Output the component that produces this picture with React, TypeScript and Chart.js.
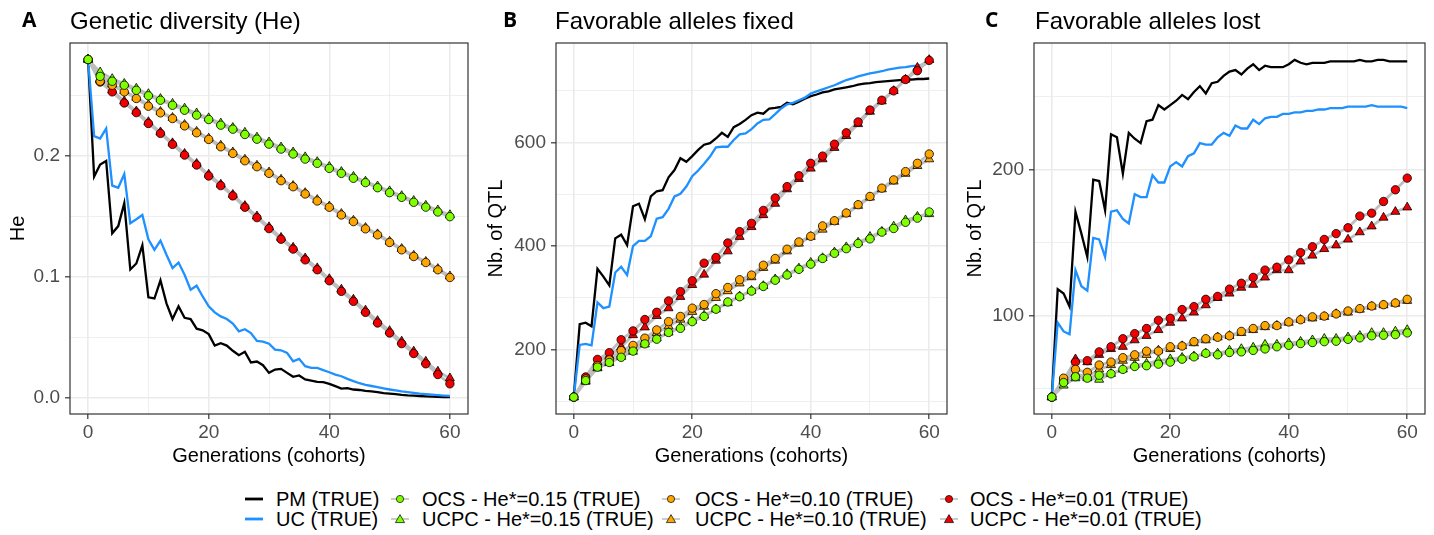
import React, { useEffect, useRef } from 'react';
import { Chart, registerables } from 'chart.js';

Chart.register(...registerables);

// ---------- categories / ticks ----------
const GEN = [
  0, 1, 2, 3, 4, 5, 6, 7, 8, 9,
  10, 11, 12, 13, 14, 15, 16, 17, 18, 19,
  20, 21, 22, 23, 24, 25, 26, 27, 28, 29,
  30, 31, 32, 33, 34, 35, 36, 37, 38, 39,
  40, 41, 42, 43, 44, 45, 46, 47, 48, 49,
  50, 51, 52, 53, 54, 55, 56, 57, 58, 59, 60,
];
const GEN_EVEN = [
  0, 2, 4, 6, 8, 10, 12, 14, 16, 18,
  20, 22, 24, 26, 28, 30, 32, 34, 36, 38,
  40, 42, 44, 46, 48, 50, 52, 54, 56, 58, 60,
];
const X_TICKS = [0, 10, 20, 30, 40, 50, 60];
const X_LABELS = ['0', '', '20', '', '40', '', '60'];

const A_Y_TICKS = [0, 0.05, 0.1, 0.15, 0.2, 0.25];
const A_Y_LABELS = ['0.0', '', '0.1', '', '0.2', ''];
const B_Y_TICKS = [100, 200, 300, 400, 500, 600, 700];
const B_Y_LABELS = ['', '200', '', '400', '', '600', ''];
const C_Y_TICKS = [50, 100, 150, 200, 250];
const C_Y_LABELS = ['', '100', '', '200', ''];

// ---------- Panel A : genetic diversity ----------
const A_PM = [
  0.280, 0.183, 0.193, 0.196, 0.136, 0.142, 0.161, 0.106, 0.111, 0.126,
  0.083, 0.082, 0.097, 0.078, 0.065, 0.0755, 0.066, 0.065, 0.057, 0.0556,
  0.0525, 0.043, 0.045, 0.043, 0.0387, 0.035, 0.0378, 0.029, 0.0298, 0.0267,
  0.0204, 0.0231, 0.0237, 0.0204, 0.0171, 0.0182, 0.0149, 0.014, 0.013, 0.0127,
  0.0113, 0.0094, 0.0074, 0.0077, 0.0066, 0.0062, 0.0055, 0.005, 0.0044, 0.0036,
  0.0032, 0.0028, 0.0022, 0.0018, 0.0016, 0.0012, 0.0009, 0.0007, 0.0005, 0.0004, 0.0003,
];
const A_UC = [
  0.280, 0.2165, 0.2146, 0.2229, 0.1755, 0.1738, 0.1851, 0.1444, 0.1477, 0.1512,
  0.1311, 0.1223, 0.130, 0.1182, 0.1072, 0.1118, 0.1017, 0.0893, 0.0926, 0.0837,
  0.0755, 0.0705, 0.0672, 0.065, 0.0612, 0.0548, 0.0565, 0.0534, 0.0469, 0.0463,
  0.0446, 0.0397, 0.0391, 0.0369, 0.030, 0.032, 0.0259, 0.0245, 0.0245, 0.0226,
  0.0209, 0.019, 0.0176, 0.0154, 0.0135, 0.0118, 0.0105, 0.0095, 0.0085, 0.0075,
  0.0066, 0.0058, 0.005, 0.0044, 0.0038, 0.0032, 0.0028, 0.0024, 0.002, 0.0016, 0.0013,
];
const A_OCS15 = [
  0.280, 0.266, 0.262, 0.2587, 0.2545, 0.250, 0.2463, 0.2421, 0.238, 0.2339,
  0.2303, 0.2256, 0.2223, 0.2179, 0.214, 0.2099, 0.2058, 0.2017, 0.1975, 0.194,
  0.1898, 0.1857, 0.1816, 0.178, 0.1738, 0.1697, 0.1658, 0.1617, 0.1577, 0.1537,
  0.1498,
];
const A_UCPC15 = [
  0.280, 0.2695, 0.264, 0.260, 0.256, 0.2515, 0.2475, 0.2435, 0.2395, 0.2355,
  0.2315, 0.2272, 0.2235, 0.2195, 0.2155, 0.2115, 0.2073, 0.2032, 0.1992, 0.1952,
  0.1912, 0.187, 0.183, 0.179, 0.175, 0.171, 0.167, 0.163, 0.159, 0.1552,
  0.1512,
];
const A_OCS10 = [
  0.280, 0.262, 0.2587, 0.2532, 0.2477, 0.2413, 0.2358, 0.2311, 0.225, 0.2193,
  0.2138, 0.2077, 0.2022, 0.1961, 0.1912, 0.1857, 0.1796, 0.1746, 0.1686, 0.1628,
  0.1576, 0.1512, 0.1457, 0.1397, 0.1347, 0.1284, 0.1223, 0.1168, 0.1118, 0.1058,
  0.0994,
];
const A_UCPC10 = [
  0.280, 0.264, 0.2595, 0.254, 0.2485, 0.2425, 0.2368, 0.2318, 0.226, 0.2203,
  0.2147, 0.2088, 0.2032, 0.1972, 0.1922, 0.1866, 0.1806, 0.1754, 0.1695, 0.1638,
  0.1584, 0.1522, 0.1466, 0.1406, 0.1354, 0.1292, 0.1232, 0.1176, 0.1125, 0.1066,
  0.1005,
];
const A_OCS01 = [
  0.280, 0.2614, 0.2532, 0.244, 0.236, 0.227, 0.2188, 0.2097, 0.2008, 0.1926,
  0.1835, 0.1755, 0.167, 0.1576, 0.149, 0.1399, 0.1311, 0.1229, 0.114, 0.1058,
  0.0967, 0.0879, 0.0796, 0.0705, 0.0617, 0.0534, 0.0446, 0.0364, 0.0279, 0.019,
  0.0113,
];
const A_UCPC01 = [
  0.280, 0.263, 0.2545, 0.2455, 0.2372, 0.2283, 0.2198, 0.2108, 0.202, 0.1937,
  0.1848, 0.1765, 0.168, 0.1588, 0.1502, 0.1412, 0.1324, 0.1242, 0.1154, 0.1072,
  0.0982, 0.0895, 0.0812, 0.0722, 0.0635, 0.0552, 0.0465, 0.0382, 0.0298, 0.0215,
  0.016,
];

// ---------- Panel B : favorable alleles fixed ----------
const B_PM = [
  108, 249, 252, 245, 356, 341, 324, 415, 422, 402,
  477, 482, 452, 496, 506, 508, 533, 547, 570, 563,
  574, 586, 596, 599, 608, 619, 611, 630, 636, 644,
  653, 658, 656, 666, 667, 669, 677, 674, 679, 685,
  690, 693, 697, 699, 703, 705, 707, 709, 712, 714,
  715, 717, 718, 719, 720, 721, 722, 722, 723, 723, 724,
];
const B_UC = [
  108, 209, 211, 208, 291, 280, 283, 349, 360, 344,
  400, 410, 410, 419, 453, 456, 472, 496, 501, 515,
  535, 546, 559, 573, 591, 592, 592, 605, 616, 618,
  626, 637, 644, 645, 655, 666, 674, 677, 682, 687,
  695, 699, 703, 707, 711, 716, 721, 724, 728, 731,
  734, 736, 738, 741, 743, 745, 746, 748, 749, 751, 754,
];
const B_OCS15 = [
  108, 140, 166, 175, 185, 197, 211, 220, 233, 241,
  254, 264, 278, 292, 302, 313, 322, 334, 344, 355,
  365, 376, 386, 395, 405, 414, 427, 434, 446, 454,
  466,
];
const B_UCPC15 = [
  108, 139, 165, 174, 186, 196, 210, 222, 233, 244,
  256, 266, 278, 290, 303, 314, 323, 336, 346, 357,
  368, 377, 388, 398, 407, 418, 428, 438, 450, 457,
  462,
];
const B_OCS10 = [
  108, 143, 169, 180, 198, 208, 222, 238, 254, 264,
  280, 287, 308, 320, 335, 344, 363, 376, 394, 408,
  419, 439, 449, 464, 480, 496, 512, 528, 544, 560,
  578,
];
const B_UCPC10 = [
  108, 138, 164, 175, 190, 203, 215, 232, 245, 258,
  273, 283, 300, 313, 328, 340, 358, 372, 390, 405,
  418, 432, 447, 462, 478, 494, 510, 525, 540, 555,
  568,
];
const B_OCS01 = [
  108, 147, 181, 194, 219, 236, 258, 272, 294, 312,
  333, 367, 378, 406, 428, 444, 469, 493, 515, 536,
  560, 574, 597, 619, 640, 663, 682, 700, 722, 739,
  759,
];
const B_UCPC01 = [
  108, 142, 176, 188, 205, 228, 243, 265, 280, 302,
  325, 345, 372, 390, 418, 437, 460, 482, 510, 530,
  550, 568, 590, 613, 636, 660, 680, 700, 722, 745,
  760,
];

// ---------- Panel C : favorable alleles lost ----------
const C_PM = [
  44, 118, 115, 106, 171, 156, 140, 193, 192, 172,
  224, 222, 197, 225, 221, 218, 233, 234, 244, 241,
  244, 247, 251, 248, 253, 257, 252, 259, 260, 264,
  267, 268, 265, 269, 272, 268, 271, 270, 270, 270,
  272, 275, 273, 272, 273, 273, 273, 274, 274, 274,
  274, 274, 275, 274, 274, 275, 275, 274, 274, 274, 274,
];
const C_UC = [
  44, 95, 89, 87, 131, 120, 117, 153, 152, 140,
  171, 172, 166, 163, 183, 181, 181, 196, 191, 191,
  202, 205, 202, 209, 211, 218, 217, 217, 222, 225,
  223, 230, 228, 228, 234, 231, 235, 236, 236, 238,
  238, 239, 239, 240, 240, 241, 241, 242, 242, 242,
  243, 243, 243, 243, 244, 243, 243, 243, 243, 243, 242,
];
const C_OCS15 = [
  44, 54, 58, 57, 59, 60, 63, 65, 65.5, 66.6,
  68, 70, 71.6, 74, 73, 74.6, 75, 76, 77, 78.5,
  79.5, 80.7, 81.4, 82, 82.3, 83.6, 84.6, 86, 86.4, 86.8,
  88,
];
const C_UCPC15 = [
  44, 52, 57, 57, 56, 60, 63, 66, 67, 69,
  70, 71, 72, 74, 74, 76, 77, 78, 80, 80,
  81, 82, 83, 84, 84, 85, 86, 88, 88, 89,
  90,
];
const C_OCS10 = [
  44, 57, 63, 61, 66, 68, 71, 73, 75.5, 75.5,
  78.5, 79, 82, 84, 85, 86, 89, 91, 93, 93,
  95.5, 97, 99, 99.5, 101, 103, 104.6, 106.4, 107.3, 108.5,
  111,
];
const C_UCPC10 = [
  44, 56, 60, 58, 63, 66, 69, 71, 73, 76,
  77, 79, 81, 83, 85, 86, 88, 90, 92, 93,
  95, 97, 98, 99, 101, 102, 104, 106, 107, 108,
  110,
];
const C_OCS01 = [
  44, 56, 68, 69, 75, 78.5, 84, 87.5, 91, 96.6,
  98, 104, 106, 111, 113, 118, 122, 126, 131, 133,
  138, 143, 147, 152, 156, 160, 168, 170, 178, 186,
  194,
];
const C_UCPC01 = [
  44, 55, 70, 68, 73, 77, 78.5, 83, 86, 90,
  95, 98, 102, 107, 112, 115, 119, 121, 126, 131,
  131, 137, 141, 145.5, 148, 152, 157, 161, 167, 171,
  174,
];

// ---------- styling ----------
const FONT = '"Liberation Sans", Arial, Helvetica, sans-serif';
const BLACK = '#000000';
const BLUE = '#1E90FF';
const GREEN = '#7FFF00';
const ORANGE = '#FFA500';
const RED = '#F00000';
const GREY_LINE = '#bebebe';
const GRID = '#ebebeb';
const AXIS_DARK = '#333333';

type PanelDef = {
  pm: number[]; uc: number[];
  ocs15: number[]; ucpc15: number[];
  ocs10: number[]; ucpc10: number[];
  ocs01: number[]; ucpc01: number[];
  yMin: number; yMax: number;
  yTicks: number[]; yLabels: string[];
  yTitle: string; yAxisWidth: number; padRight: number;
};

const PANEL_A: PanelDef = {
  pm: A_PM, uc: A_UC, ocs15: A_OCS15, ucpc15: A_UCPC15, ocs10: A_OCS10, ucpc10: A_UCPC10,
  ocs01: A_OCS01, ucpc01: A_UCPC01, yMin: -0.0137, yMax: 0.2937,
  yTicks: A_Y_TICKS, yLabels: A_Y_LABELS, yTitle: 'He', yAxisWidth: 70, padRight: 10,
};
const PANEL_B: PanelDef = {
  pm: B_PM, uc: B_UC, ocs15: B_OCS15, ucpc15: B_UCPC15, ocs10: B_OCS10, ucpc10: B_UCPC10,
  ocs01: B_OCS01, ucpc01: B_UCPC01, yMin: 75.4, yMax: 792.6,
  yTicks: B_Y_TICKS, yLabels: B_Y_LABELS, yTitle: 'Nb. of QTL', yAxisWidth: 78, padRight: 10,
};
const PANEL_C: PanelDef = {
  pm: C_PM, uc: C_UC, ocs15: C_OCS15, ucpc15: C_UCPC15, ocs10: C_OCS10, ucpc10: C_UCPC10,
  ocs01: C_OCS01, ucpc01: C_UCPC01, yMin: 32.45, yMax: 286.55,
  yTicks: C_Y_TICKS, yLabels: C_Y_LABELS, yTitle: 'Nb. of QTL', yAxisWidth: 77, padRight: 9,
};

const toPts = (xs: number[], ys: number[]) => ys.map((y, i) => ({ x: xs[i], y }));

const markerDs = (ys: number[], color: string, style: string) => ({
  data: toPts(GEN_EVEN, ys),
  showLine: false,
  pointStyle: style,
  pointRadius: style === 'circle' ? 4.2 : 5.2,
  pointBackgroundColor: color,
  pointBorderColor: '#000000',
  pointBorderWidth: 0.8,
  borderColor: 'rgba(0,0,0,0)',
  backgroundColor: color,
});
const greyDs = (ys: number[]) => ({
  data: toPts(GEN_EVEN, ys),
  borderColor: GREY_LINE,
  borderWidth: 2.8,
  pointRadius: 0,
  tension: 0,
});
const lineDs = (ys: number[], color: string) => ({
  data: toPts(GEN, ys),
  borderColor: color,
  borderWidth: 2.3,
  pointRadius: 0,
  tension: 0,
});

const panelBorder = {
  id: 'panelBorder',
  afterDraw(chart: any) {
    const { ctx, chartArea } = chart;
    const { left, top, right, bottom } = chartArea;
    ctx.save();
    ctx.strokeStyle = AXIS_DARK;
    ctx.lineWidth = 1.2;
    ctx.strokeRect(left, top, right - left, bottom - top);
    ctx.restore();
  },
};

function panelConfig(p: PanelDef): any {
  const datasets = [
    markerDs(p.ocs15, GREEN, 'circle'),
    markerDs(p.ocs10, ORANGE, 'circle'),
    markerDs(p.ocs01, RED, 'circle'),
    markerDs(p.ucpc15, GREEN, 'triangle'),
    markerDs(p.ucpc10, ORANGE, 'triangle'),
    markerDs(p.ucpc01, RED, 'triangle'),
    greyDs(p.ocs15), greyDs(p.ucpc15),
    greyDs(p.ocs10), greyDs(p.ucpc10),
    greyDs(p.ocs01), greyDs(p.ucpc01),
    lineDs(p.uc, BLUE),
    lineDs(p.pm, BLACK),
  ];
  return {
    type: 'line',
    data: { datasets },
    plugins: [panelBorder],
    options: {
      responsive: false,
      maintainAspectRatio: false,
      animation: false,
      events: [],
      layout: { padding: { top: 43, right: p.padRight, left: 0, bottom: 0 } },
      plugins: {
        legend: { display: false },
        tooltip: { enabled: false },
        title: { display: false },
      },
      scales: {
        x: {
          type: 'linear',
          min: -3,
          max: 63,
          afterBuildTicks: (s: any) => { s.ticks = X_TICKS.map((v) => ({ value: v })); },
          afterFit: (s: any) => { s.height = 56; },
          border: { display: false },
          grid: {
            color: GRID,
            lineWidth: (c: any) => (X_LABELS[c.index] ? 1.6 : 0.8),
            drawTicks: true,
            tickLength: 5,
            tickWidth: 1.2,
            tickColor: (c: any) => (X_LABELS[c.index] ? AXIS_DARK : 'rgba(0,0,0,0)'),
          },
          ticks: {
            autoSkip: false,
            maxRotation: 0,
            padding: 2,
            color: '#4d4d4d',
            font: { family: FONT, size: 19 },
            callback: (_v: any, i: number) => X_LABELS[i],
          },
          title: {
            display: true,
            text: 'Generations (cohorts)',
            color: '#000000',
            font: { family: FONT, size: 20 },
            padding: { top: 0, bottom: 2 },
          },
        },
        y: {
          type: 'linear',
          min: p.yMin,
          max: p.yMax,
          afterBuildTicks: (s: any) => { s.ticks = p.yTicks.map((v) => ({ value: v })); },
          afterFit: (s: any) => { s.width = p.yAxisWidth; },
          border: { display: false },
          grid: {
            color: GRID,
            lineWidth: (c: any) => (p.yLabels[c.index] ? 1.6 : 0.8),
            drawTicks: true,
            tickLength: 5,
            tickWidth: 1.2,
            tickColor: (c: any) => (p.yLabels[c.index] ? AXIS_DARK : 'rgba(0,0,0,0)'),
          },
          ticks: {
            autoSkip: false,
            padding: 5,
            color: '#4d4d4d',
            font: { family: FONT, size: 19 },
            callback: (_v: any, i: number) => p.yLabels[i],
          },
          title: {
            display: true,
            text: p.yTitle,
            color: '#000000',
            font: { family: FONT, size: 20 },
            padding: { top: 6, bottom: 0 },
          },
        },
      },
    },
  };
}

// ---------- legend ----------
const LEGEND_LABELS = [
  'PM (TRUE)', 'UC (TRUE)',
  'OCS - He*=0.15 (TRUE)', 'UCPC - He*=0.15 (TRUE)',
  'OCS - He*=0.10 (TRUE)', 'UCPC - He*=0.10 (TRUE)',
  'OCS - He*=0.01 (TRUE)', 'UCPC - He*=0.01 (TRUE)',
];
const LEGEND_KINDS = ['line', 'line', 'circle', 'triangle', 'circle', 'triangle', 'circle', 'triangle'];
const LEGEND_COLORS = [BLACK, BLUE, GREEN, GREEN, ORANGE, ORANGE, RED, RED];
const LEGEND_KEY_X = [254, 400, 671, 949];
const LEGEND_TEXT_X = [276, 422, 695, 970];
const LEGEND_ROW_TOP = [489, 509];
const LEGEND_ROW_MID = [498.5, 518.5];

function LegendKey({ kind, color }: { kind: string; color: string }) {
  if (kind === 'line') {
    return (
      <svg width={20} height={14}>
        <line x1={1} x2={19} y1={7} y2={7} stroke={color} strokeWidth={2.8} />
      </svg>
    );
  }
  return (
    <svg width={20} height={14}>
      <line x1={1} x2={19} y1={7} y2={7} stroke={GREY_LINE} strokeWidth={1.6} />
      {kind === 'circle' ? (
        <circle cx={10} cy={7} r={3.6} fill={color} stroke="#000" strokeWidth={0.7} />
      ) : (
        <polygon points="10,2.6 14.6,10.6 5.4,10.6" fill={color} stroke="#000" strokeWidth={0.7} />
      )}
    </svg>
  );
}

const PANEL_LETTERS = ['A', 'B', 'C'];
const PANEL_LETTER_X = [22, 503, 985];
const PANEL_TITLES = ['Genetic diversity (He)', 'Favorable alleles fixed', 'Favorable alleles lost'];
const PANEL_TITLE_X = [70, 555, 1035];

export default function App() {
  const refA = useRef<HTMLCanvasElement | null>(null);
  const refB = useRef<HTMLCanvasElement | null>(null);
  const refC = useRef<HTMLCanvasElement | null>(null);

  useEffect(() => {
    const charts = [
      new Chart(refA.current as HTMLCanvasElement, panelConfig(PANEL_A)),
      new Chart(refB.current as HTMLCanvasElement, panelConfig(PANEL_B)),
      new Chart(refC.current as HTMLCanvasElement, panelConfig(PANEL_C)),
    ];
    return () => charts.forEach((c) => c.destroy());
  }, []);

  return (
    <div
      style={{
        position: 'absolute', left: 0, top: 0, width: 1434, height: 535,
        background: '#ffffff', overflow: 'hidden', fontFamily: FONT, color: '#000',
      }}
    >
      <canvas ref={refA} width={478} height={470}
        style={{ position: 'absolute', left: 0, top: 0, width: 478, height: 470 }} />
      <canvas ref={refB} width={479} height={470}
        style={{ position: 'absolute', left: 478, top: 0, width: 479, height: 470 }} />
      <canvas ref={refC} width={477} height={470}
        style={{ position: 'absolute', left: 957, top: 0, width: 477, height: 470 }} />

      {PANEL_LETTERS.map((t, i) => (
        <div key={'l' + i} style={{
          position: 'absolute', left: PANEL_LETTER_X[i], top: 9, fontFamily: '"Open Sans", "DejaVu Sans", sans-serif',
          fontWeight: 'bold', fontSize: 21, lineHeight: '21px', whiteSpace: 'nowrap',
        }}>{t}</div>
      ))}
      {PANEL_TITLES.map((t, i) => (
        <div key={'t' + i} style={{
          position: 'absolute', left: PANEL_TITLE_X[i], top: 9, fontSize: 24,
          lineHeight: '24px', whiteSpace: 'nowrap',
        }}>{t}</div>
      ))}

      {LEGEND_LABELS.map((label, i) => {
        const col = Math.floor(i / 2);
        const row = i % 2;
        return (
          <React.Fragment key={'lg' + i}>
            <div style={{ position: 'absolute', left: LEGEND_KEY_X[col] - 10, top: LEGEND_ROW_MID[row] - 7, width: 20, height: 14, lineHeight: 0 }}>
              <LegendKey kind={LEGEND_KINDS[i]} color={LEGEND_COLORS[i]} />
            </div>
            <div style={{
              position: 'absolute', left: LEGEND_TEXT_X[col], top: LEGEND_ROW_TOP[row],
              fontSize: 20, lineHeight: '20px', whiteSpace: 'nowrap',
            }}>{label}</div>
          </React.Fragment>
        );
      })}
    </div>
  );
}
